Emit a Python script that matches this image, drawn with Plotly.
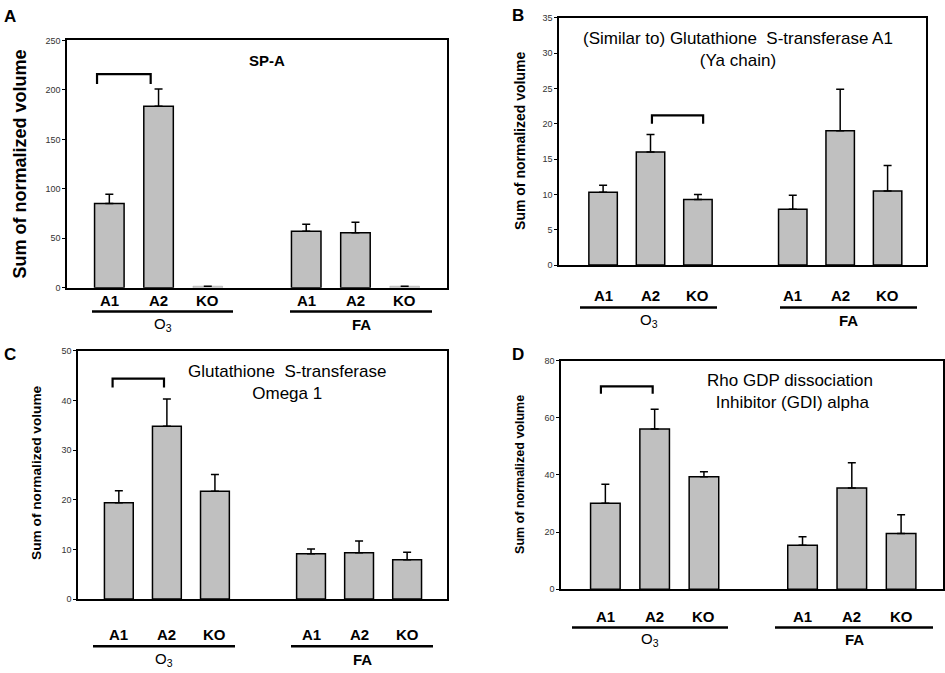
import plotly.graph_objects as go

W, H = 945, 673

# ---------------- data ----------------
categories = ["A1", "A2", "KO"]
groups = ["O<sub>3</sub>", "<b>FA</b>"]

titles = {
    "A": "<b>SP-A</b>",
    "B": "(Similar to) Glutathione  S-transferase A1<br>(Ya chain)",
    "C": "Glutathione  S-transferase<br>Omega 1",
    "D": "Rho GDP dissociation<br> Inhibitor (GDI) alpha",
}

# means, order: O3 A1, O3 A2, O3 KO, FA A1, FA A2, FA KO
values_A = [85.2, 183.4, 1.5, 57.0, 55.7, 1.5]
errors_A = [9.3, 17.6, 0.0, 7.3, 10.6, 0.0]
values_B = [10.3, 16.0, 9.3, 7.9, 19.0, 10.5]
errors_B = [1.0, 2.5, 0.7, 2.0, 5.9, 3.6]
values_C = [19.4, 34.8, 21.7, 9.1, 9.3, 7.9]
errors_C = [2.4, 5.5, 3.4, 1.0, 2.4, 1.5]
values_D = [30.1, 56.1, 39.4, 15.4, 35.4, 19.5]
errors_D = [6.6, 6.9, 1.7, 3.0, 8.9, 6.6]

y_max = {"A": 250, "B": 35, "C": 50, "D": 80}
y_step = {"A": 50, "B": 5, "C": 10, "D": 20}

# significance brackets: (x start, x end, top y, leg bottom y)
brackets = {
    "A": (-0.25, 0.84, 216, 206),
    "B": (1.03, 2.11, 21.2, 20.0),
    "C": (-0.13, 0.94, 44.4, 42.6),
    "D": (-0.09, 0.96, 71.0, 68.4),
}

panel_values = {"A": values_A, "B": values_B, "C": values_C, "D": values_D}
panel_errors = {"A": errors_A, "B": errors_B, "C": errors_C, "D": errors_D}

# ---------------- layout (pixel geometry) ----------------
box = {
    "A": (67, 447, 36, 287),
    "B": (559, 926, 13, 264),
    "C": (78, 447, 351, 603),
    "D": (561, 943, 361, 593),
}
xrange_ = {"A": (-0.86, 6.86), "B": (-0.93, 6.81), "C": (-0.85, 6.83), "D": (-0.9, 6.85)}
title_pos = {"A": (267, 56), "B": (738, 45), "C": (287, 383), "D": (790, 392)}
title_size = {"A": 15, "B": 17, "C": 17, "D": 17}
ytitle_pos = {"A": (20, 162), "B": (520, 138), "C": (37, 475), "D": (520, 477)}
ytitle_size = {"A": 18, "B": 14, "C": 13.7, "D": 12.5}
letter_pos = {"A": (10, 12), "B": (518, 11), "C": (10, 355), "D": (518, 355)}
cat_y = {"A": 300, "B": 295, "C": 639, "D": 621}
line_y = {"A": 311, "B": 307, "C": 651, "D": 632}
grp_y = {"A": 324, "B": 320, "C": 664, "D": 644}
under = {
    "A": [(92, 233), (290, 432)],
    "B": [(580, 717), (780, 917)],
    "C": [(93, 235), (291, 433)],
    "D": [(572, 728), (775, 933)],
}

FONT = "Arial, Liberation Sans, sans-serif"


def fx(x):
    return x / W


def fy(y):
    return 1 - y / H


def text(x, y, s, size, angle=0, xref="paper"):
    return dict(x=x, y=y, xref=xref, yref="paper", text=s, showarrow=False,
                xanchor="center", yanchor="middle", textangle=angle,
                font=dict(size=size, family=FONT, color="black"))


fig = go.Figure()
layout = dict(
    width=W, height=H, margin=dict(l=0, r=0, t=0, b=0),
    paper_bgcolor="white", plot_bgcolor="white", showlegend=False,
    font=dict(family=FONT, color="black"), bargap=0.4,
)
annotations = []
shapes = []

positions = [g * 4 + i for g in range(len(groups)) for i in range(len(categories))]
labels = [c for g in groups for c in categories]

for k, p in enumerate(["A", "B", "C", "D"]):
    xa = "x" if k == 0 else f"x{k+1}"
    ya = "y" if k == 0 else f"y{k+1}"
    xkey = "xaxis" if k == 0 else f"xaxis{k+1}"
    ykey = "yaxis" if k == 0 else f"yaxis{k+1}"
    l, r, t, b = box[p]
    vals = panel_values[p]
    errs = panel_errors[p]
    tiny = [v < 2 for v in vals]
    fig.add_trace(go.Bar(
        x=positions, y=vals, width=0.6, xaxis=xa, yaxis=ya,
        marker=dict(color=["#d8d8d8" if s else "#c0c0c0" for s in tiny],
                    line=dict(color=["#b0b0b0" if s else "black" for s in tiny],
                              width=[0.8 if s else 1.5 for s in tiny])),
        error_y=dict(type="data", symmetric=False, array=errs,
                     arrayminus=[0] * len(errs), color="black",
                     thickness=1.5, width=4, visible=True),
        hoverinfo="skip",
    ))
    layout[xkey] = dict(
        domain=[fx(l), fx(r)], range=list(xrange_[p]), anchor=ya,
        showticklabels=False, ticks="", showgrid=False, zeroline=False,
        showline=True, linecolor="black", linewidth=1.5, mirror=True,
    )
    layout[ykey] = dict(
        domain=[fy(b), fy(t)], range=[0, y_max[p]], anchor=xa,
        tickmode="linear", tick0=0, dtick=y_step[p],
        ticks="outside", ticklen=3, tickcolor="black", tickwidth=1,
        tickfont=dict(size=9, color="#333"), showgrid=False, zeroline=False,
        showline=True, linecolor="black", linewidth=1.5, mirror=True,
    )
    x0, x1, ytop, ybot = brackets[p]
    shapes.append(dict(
        type="path", xref=xa, yref=ya,
        path=f"M {x0},{ybot} L {x0},{ytop} L {x1},{ytop} L {x1},{ybot}",
        line=dict(color="black", width=2.2),
    ))
    tx, ty = title_pos[p]
    annotations.append(text(fx(tx), fy(ty), titles[p], title_size[p]))
    yx, yy = ytitle_pos[p]
    annotations.append(text(fx(yx), fy(yy), "<b>Sum of normalized volume</b>",
                            ytitle_size[p], angle=-90))
    lx, ly = letter_pos[p]
    annotations.append(text(fx(lx), fy(ly), f"<b>{p}</b>", 17))
    for pos, lab in zip(positions, labels):
        annotations.append(text(pos, fy(cat_y[p]), f"<b>{lab}</b>", 15, xref=xa))
    for (u0, u1), g in zip(under[p], groups):
        shapes.append(dict(type="line", xref="paper", yref="paper",
                           x0=fx(u0), x1=fx(u1), y0=fy(line_y[p]), y1=fy(line_y[p]),
                           line=dict(color="black", width=2.5)))
        annotations.append(text(fx((u0 + u1) / 2), fy(grp_y[p]), g, 15))

layout["annotations"] = annotations
layout["shapes"] = shapes
fig.update_layout(**layout)
fig.write_html("out.html", config={"displayModeBar": False},
               post_script="document.body.style.margin='0';")
